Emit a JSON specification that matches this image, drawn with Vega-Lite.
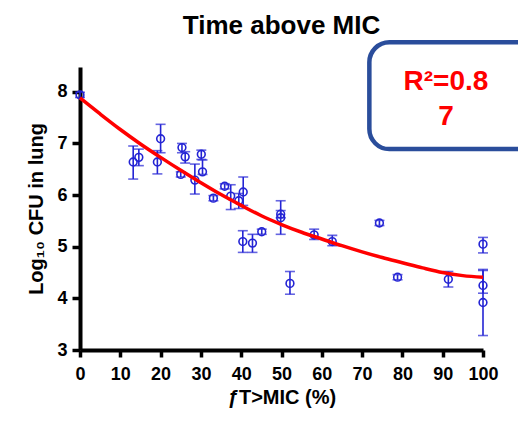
{
  "$schema": "https://vega.github.io/schema/vega-lite/v6.json",
  "autosize": {"type": "none"},
  "width": 403,
  "height": 283,
  "padding": {"left": 80, "top": 67, "right": 35, "bottom": 73},
  "background": "white",
  "config": {
    "font": "Liberation Sans",
    "view": {"stroke": null},
    "axis": {
      "grid": false,
      "domainColor": "black",
      "domainWidth": 4,
      "tickColor": "black",
      "tickWidth": 3.5,
      "labelFont": "Liberation Sans",
      "labelFontWeight": "bold",
      "labelFontSize": 18,
      "labelColor": "black",
      "labelFlush": false,
      "labelOverlap": false,
      "format": "d",
      "titleFont": "Liberation Sans",
      "titleFontWeight": "bold",
      "titleFontSize": 20,
      "titleColor": "black"
    }
  },
  "title": {
    "text": "Time above MIC",
    "font": "Liberation Sans",
    "fontSize": 26,
    "fontWeight": "bold",
    "color": "black",
    "anchor": "middle",
    "baseline": "alphabetic",
    "offset": 8,
    "dy": 28
  },
  "datasets": {
    "pts": [
      {"x": 0, "y": 7.94, "lo": 7.89, "hi": 7.99},
      {"x": 13.2, "y": 6.64, "lo": 6.31, "hi": 6.95},
      {"x": 14.6, "y": 6.73, "lo": 6.57, "hi": 6.89},
      {"x": 19.2, "y": 6.64, "lo": 6.41, "hi": 6.86},
      {"x": 20.0, "y": 7.09, "lo": 6.82, "hi": 7.37},
      {"x": 25.3, "y": 6.92, "lo": 6.82, "hi": 7.0},
      {"x": 26.1, "y": 6.74, "lo": 6.62, "hi": 6.84},
      {"x": 25.0, "y": 6.4, "lo": 6.35, "hi": 6.45},
      {"x": 28.5, "y": 6.29, "lo": 6.02, "hi": 6.6},
      {"x": 30.1, "y": 6.79, "lo": 6.69, "hi": 6.87},
      {"x": 30.4, "y": 6.45, "lo": 6.4, "hi": 6.68},
      {"x": 33.1, "y": 5.94, "lo": 5.89, "hi": 5.99},
      {"x": 35.9, "y": 6.17, "lo": 6.12, "hi": 6.22},
      {"x": 37.4, "y": 5.98, "lo": 5.72, "hi": 6.2},
      {"x": 39.4, "y": 5.89, "lo": 5.74, "hi": 6.03},
      {"x": 40.5, "y": 6.06, "lo": 5.8, "hi": 6.35},
      {"x": 40.4, "y": 5.1, "lo": 4.89, "hi": 5.31},
      {"x": 42.8, "y": 5.07, "lo": 4.89, "hi": 5.24},
      {"x": 45.1, "y": 5.29, "lo": 5.24, "hi": 5.34},
      {"x": 49.8, "y": 5.56, "lo": 5.24, "hi": 5.89},
      {"x": 49.8, "y": 5.63, "lo": 5.56, "hi": 5.7},
      {"x": 52.1, "y": 4.29, "lo": 4.08, "hi": 4.52},
      {"x": 58.1, "y": 5.23, "lo": 5.14, "hi": 5.34},
      {"x": 62.6, "y": 5.1, "lo": 5.02, "hi": 5.22},
      {"x": 74.3, "y": 5.46, "lo": 5.41, "hi": 5.51},
      {"x": 78.8, "y": 4.41, "lo": 4.36, "hi": 4.46},
      {"x": 91.4, "y": 4.37, "lo": 4.22, "hi": 4.52},
      {"x": 100, "y": 5.05, "lo": 4.88, "hi": 5.18},
      {"x": 100, "y": 4.25, "lo": 4.1, "hi": 4.54},
      {"x": 100, "y": 3.92, "lo": 3.28, "hi": 4.56}
    ],
    "curve": [
      {"x": 0, "y": 7.88}, {"x": 5, "y": 7.57}, {"x": 10, "y": 7.27}, {"x": 15, "y": 6.99},
      {"x": 20, "y": 6.73}, {"x": 25, "y": 6.48}, {"x": 30, "y": 6.24}, {"x": 35, "y": 6.01},
      {"x": 40, "y": 5.8}, {"x": 45, "y": 5.6}, {"x": 50, "y": 5.43}, {"x": 55, "y": 5.28},
      {"x": 60, "y": 5.15}, {"x": 65, "y": 5.02}, {"x": 70, "y": 4.9}, {"x": 75, "y": 4.79},
      {"x": 80, "y": 4.69}, {"x": 85, "y": 4.59}, {"x": 90, "y": 4.5}, {"x": 95, "y": 4.44},
      {"x": 100, "y": 4.41}
    ],
    "box": [{"x1": 71.8, "x2": 115, "y1": 8.96, "y2": 6.89}],
    "labels": [
      {"x": 90.8, "y": 8.03, "t": "R²=0.8"},
      {"x": 90.8, "y": 7.35, "t": "7"}
    ]
  },
  "layer": [
    {
      "data": {"name": "box"},
      "mark": {"type": "rect", "cornerRadius": 20, "stroke": "#2a4d9b", "strokeWidth": 4.5, "fill": "white", "clip": false},
      "encoding": {
        "x": {"field": "x1", "type": "quantitative", "scale": {"domain": [0, 100], "nice": false, "zero": false},
              "axis": {"values": [0, 10, 20, 30, 40, 50, 60, 70, 80, 90, 100], "title": "ƒT>MIC (%)", "tickSize": 7, "labelPadding": 8, "titlePadding": 4}},
        "x2": {"field": "x2"},
        "y": {"field": "y1", "type": "quantitative", "scale": {"domain": [3, 8.48], "nice": false, "zero": false},
              "axis": {"values": [3, 4, 5, 6, 7, 8], "title": "Log₁₀ CFU in lung", "tickSize": 8, "labelPadding": 5, "titlePadding": 10}},
        "y2": {"field": "y2"}
      }
    },
    {
      "data": {"name": "labels"},
      "mark": {"type": "text", "font": "Liberation Sans", "fontSize": 28, "fontWeight": "bold", "color": "#ff0000", "align": "center", "baseline": "alphabetic"},
      "encoding": {
        "x": {"field": "x", "type": "quantitative"},
        "y": {"field": "y", "type": "quantitative"},
        "text": {"field": "t"}
      }
    },
    {
      "data": {"name": "pts"},
      "mark": {"type": "rule", "color": "#2424d4", "strokeWidth": 1.6},
      "encoding": {
        "x": {"field": "x", "type": "quantitative"},
        "y": {"field": "lo", "type": "quantitative"},
        "y2": {"field": "hi"}
      }
    },
    {
      "data": {"name": "pts"},
      "mark": {"type": "tick", "orient": "horizontal", "color": "#2424d4", "size": 10, "thickness": 1.6},
      "encoding": {
        "x": {"field": "x", "type": "quantitative"},
        "y": {"field": "lo", "type": "quantitative"}
      }
    },
    {
      "data": {"name": "pts"},
      "mark": {"type": "tick", "orient": "horizontal", "color": "#2424d4", "size": 10, "thickness": 1.6},
      "encoding": {
        "x": {"field": "x", "type": "quantitative"},
        "y": {"field": "hi", "type": "quantitative"}
      }
    },
    {
      "data": {"name": "pts"},
      "mark": {"type": "point", "shape": "circle", "filled": false, "color": "#2424d4", "size": 60, "strokeWidth": 1.6, "opacity": 1},
      "encoding": {
        "x": {"field": "x", "type": "quantitative"},
        "y": {"field": "y", "type": "quantitative"}
      }
    },
    {
      "data": {"name": "curve"},
      "mark": {"type": "line", "color": "#ff0000", "strokeWidth": 3.5, "interpolate": "monotone"},
      "encoding": {
        "x": {"field": "x", "type": "quantitative"},
        "y": {"field": "y", "type": "quantitative"}
      }
    }
  ]
}
